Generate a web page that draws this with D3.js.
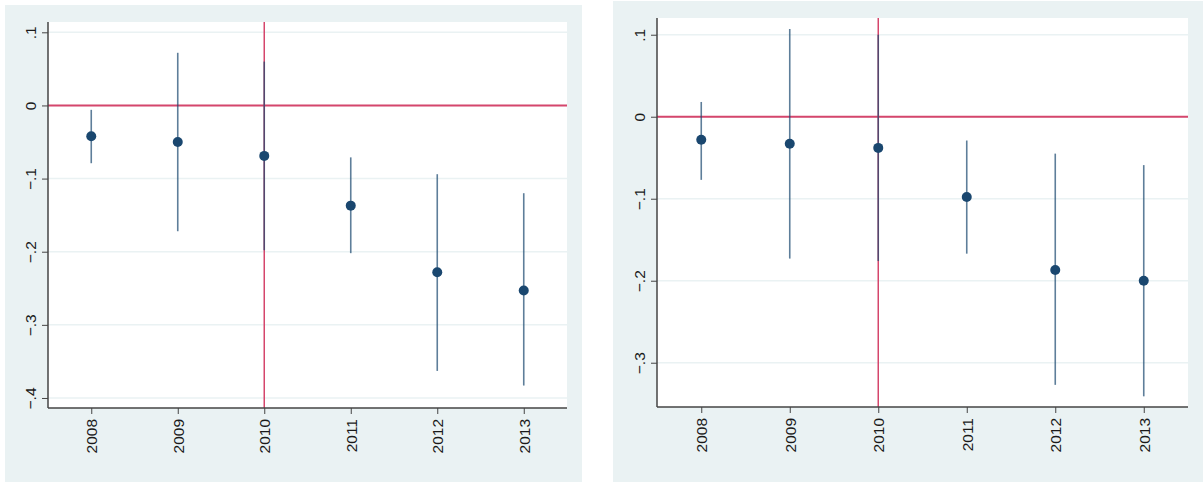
<!DOCTYPE html>
<html>
<head>
<meta charset="utf-8">
<script src="https://cdn.jsdelivr.net/npm/d3@7"></script>
<style>
  body { margin: 0; background: #fff; }
  svg { display: block; }
  text { font-family: "Liberation Sans", Arial, sans-serif; }
</style>
</head>
<body>
<svg id="chart" width="1203" height="482"></svg>
<script>
// years on the x axis
var years = [2008, 2009, 2010, 2011, 2012, 2013];

// left panel: point estimates and confidence bounds
var leftEst = [-0.042, -0.050, -0.069, -0.137, -0.228, -0.253];
var leftLo  = [-0.079, -0.172, -0.198, -0.202, -0.363, -0.383];
var leftHi  = [-0.006, 0.072, 0.060, -0.071, -0.094, -0.120];
var leftTicks = [0.1, 0, -0.1, -0.2, -0.3, -0.4];

// right panel
var rightEst = [-0.028, -0.033, -0.038, -0.098, -0.187, -0.200];
var rightLo  = [-0.077, -0.173, -0.176, -0.167, -0.327, -0.341];
var rightHi  = [0.018, 0.107, 0.100, -0.029, -0.045, -0.059];
var rightTicks = [0.1, 0, -0.1, -0.2, -0.3];

var refYear = 2010;

var stataFmt = function (v) {
    if (Math.abs(v) < 1e-9) return "0";
    var s = d3.format(".1f")(v);
    return s.replace("0.", ".");
};

make_panel = function (svg, opt) {
    var data = years.map(function (y, i) {
        return { year: y, est: opt.est[i], lo: opt.lo[i], hi: opt.hi[i] };
    });

    svg.append("rect")
        .attr("x", opt.bg[0]).attr("y", opt.bg[1])
        .attr("width", opt.bg[2]).attr("height", opt.bg[3])
        .attr("fill", "#eaf2f3");

    var x = d3.scaleLinear()
        .domain([2007.5, 2013.5])
        .range([opt.left, opt.right]);

    var y = d3.scaleLinear()
        .domain(opt.ydom)
        .range([opt.bottom, opt.top]);

    svg.append("rect")
        .attr("x", opt.left).attr("y", opt.top)
        .attr("width", opt.right - opt.left).attr("height", opt.bottom - opt.top)
        .attr("fill", "#fff");

    // gridlines
    svg.append("g")
        .selectAll("line")
        .data(opt.ticks)
        .join("line")
        .attr("x1", opt.left).attr("x2", opt.right)
        .attr("y1", d => y(d)).attr("y2", d => y(d))
        .attr("stroke", "#eaf2f3")
        .attr("stroke-width", 1.5);

    // reference lines
    svg.append("line")
        .attr("x1", opt.left).attr("x2", opt.right)
        .attr("y1", y(0)).attr("y2", y(0))
        .attr("stroke", "#d5466c").attr("stroke-width", 2);

    svg.append("line")
        .attr("x1", x(refYear)).attr("x2", x(refYear))
        .attr("y1", opt.top).attr("y2", opt.bottom)
        .attr("stroke", "#d5466c").attr("stroke-width", 1.5);

    // confidence intervals
    svg.append("g")
        .selectAll("line")
        .data(data)
        .join("line")
        .attr("x1", d => x(d.year)).attr("x2", d => x(d.year))
        .attr("y1", d => y(d.lo)).attr("y2", d => y(d.hi))
        .attr("stroke", "#1a476f")
        .attr("stroke-opacity", 0.7)
        .attr("stroke-width", 1.6);

    // point estimates
    svg.append("g")
        .selectAll("circle")
        .data(data)
        .join("circle")
        .attr("cx", d => x(d.year))
        .attr("cy", d => y(d.est))
        .attr("r", 5)
        .attr("fill", "#1a476f");

    // y axis
    var yAxis = svg.append("g")
        .attr("transform", `translate(${opt.left},0)`)
        .call(d3.axisLeft(y).tickValues(opt.ticks).tickFormat(stataFmt).tickSize(6).tickPadding(0));
    yAxis.select(".domain").attr("d", `M0,${opt.top}V${opt.bottom}`).attr("stroke", "#444").attr("stroke-width", 1.5);
    yAxis.selectAll(".tick line").attr("stroke", "#444");
    yAxis.selectAll(".tick text")
        .attr("x", 0).attr("y", 0).attr("dy", "0.35em")
        .attr("text-anchor", "middle")
        .attr("transform", "translate(-17,0) rotate(-90)")
        .attr("font-size", 15.5)
        .attr("fill", "#1a1a1a");

    // x axis
    var xAxis = svg.append("g")
        .attr("transform", `translate(0,${opt.bottom})`)
        .call(d3.axisBottom(x).tickValues(years).tickFormat(d3.format("d")).tickSize(6).tickPadding(0));
    xAxis.select(".domain").attr("d", `M${opt.left},0H${opt.right}`).attr("stroke", "#444").attr("stroke-width", 1.5);
    xAxis.selectAll(".tick line").attr("stroke", "#444");
    xAxis.selectAll(".tick text")
        .attr("x", 0).attr("y", 0).attr("dy", "0.35em")
        .attr("text-anchor", "end")
        .attr("transform", "translate(0,11) rotate(-90)")
        .attr("font-size", 15.5)
        .attr("fill", "#1a1a1a");
    svg.selectAll(".domain").attr("fill", "none");
};

var svg = d3.select("#chart");

make_panel(svg, {
    bg: [5, 5, 577, 477],
    left: 48, right: 567, top: 22, bottom: 408,
    ydom: [-0.4137, 0.1141],
    ticks: leftTicks,
    est: leftEst, lo: leftLo, hi: leftHi
});

make_panel(svg, {
    bg: [613, 1, 590, 481],
    left: 657, right: 1188, top: 18, bottom: 407,
    ydom: [-0.354, 0.1204],
    ticks: rightTicks,
    est: rightEst, lo: rightLo, hi: rightHi
});
</script>
</body>
</html>
